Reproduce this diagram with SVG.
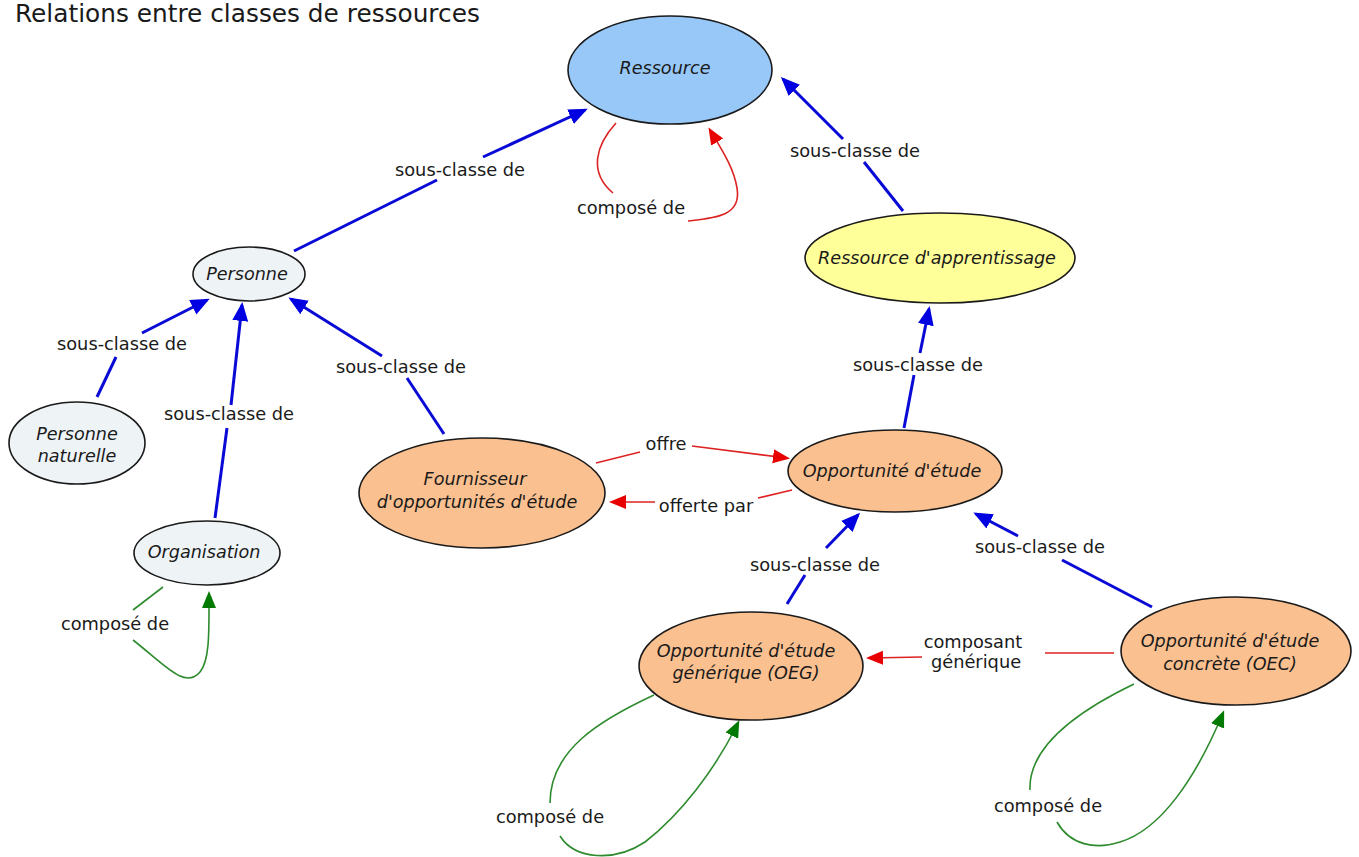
<svg xmlns="http://www.w3.org/2000/svg" width="1359" height="857" viewBox="0 0 1359 857">
<style>
  .node { stroke: #1a1a1a; stroke-width: 1.6; }
  .blue { fill: #98c8f8; }
  .grey { fill: #eef3f6; }
  .yellow { fill: #ffff99; }
  .orange { fill: #fac090; }
  .nt { font-family: "DejaVu Sans", Verdana, sans-serif; font-style: italic; font-size: 17.6px; fill: #1a1a1a; text-anchor: middle; }
  .lt { font-family: "DejaVu Sans", Verdana, sans-serif; font-size: 17.8px; fill: #1a1a1a; text-anchor: middle; }
  .title { font-family: "DejaVu Sans", Verdana, sans-serif; font-size: 24.8px; fill: #1a1a1a; }
  .eb { fill: none; stroke: #0a0ad6; stroke-width: 3; }
  .er { fill: none; stroke: #dd2222; stroke-width: 1.6; }
  .eg { fill: none; stroke: #2e8b2e; stroke-width: 1.6; }
</style>
<defs>
  <marker id="ab" markerUnits="userSpaceOnUse" markerWidth="22" markerHeight="18" refX="16" refY="8" orient="auto">
    <path d="M0,0 L19,8 L0,16 z" fill="#0000e0"/>
  </marker>
  <marker id="ar" markerUnits="userSpaceOnUse" markerWidth="20" markerHeight="16" refX="14" refY="7" orient="auto">
    <path d="M0,0 L17,7 L0,14 z" fill="#e80000"/>
  </marker>
  <marker id="ag" markerUnits="userSpaceOnUse" markerWidth="20" markerHeight="16" refX="14" refY="7" orient="auto">
    <path d="M0,0 L17,7 L0,14 z" fill="#007a00"/>
  </marker>
</defs>
<rect width="1359" height="857" fill="#ffffff"/>
<text class="title" x="15" y="22">Relations entre classes de ressources</text>

<g id="connectors">
  <path class="eb" d="M294,251 L437,180"/>
  <path class="eb" d="M483,157 L585,110" marker-end="url(#ab)"/>
  <path class="eb" d="M903,211 L864,162"/>
  <path class="eb" d="M843,139 L783,79" marker-end="url(#ab)"/>
  <path class="eb" d="M904,428 L914,375"/>
  <path class="eb" d="M920,353 L929,309" marker-end="url(#ab)"/>
  <path class="eb" d="M97,397 L116,357"/>
  <path class="eb" d="M142,333 L207,300" marker-end="url(#ab)"/>
  <path class="eb" d="M215,518 L227,428"/>
  <path class="eb" d="M231,405 L242,305" marker-end="url(#ab)"/>
  <path class="eb" d="M444,434 L407,378"/>
  <path class="eb" d="M382,356 L291,299" marker-end="url(#ab)"/>
  <path class="eb" d="M787,604 L805,575"/>
  <path class="eb" d="M826,548 L858,515" marker-end="url(#ab)"/>
  <path class="eb" d="M1152,607 L1062,560"/>
  <path class="eb" d="M1018,536 L976,514" marker-end="url(#ab)"/>

  <path class="er" d="M596,463 L640,452"/>
  <path class="er" d="M692,446 L787,458" marker-end="url(#ar)"/>
  <path class="er" d="M792,490 L758,498"/>
  <path class="er" d="M655,502 L612,502" marker-end="url(#ar)"/>
  <path class="er" d="M1114,653 L1045,653"/>
  <path class="er" d="M922,657 L869,658" marker-end="url(#ar)"/>
  <path class="er" d="M616,123 C596,145 588,172 613,193"/>
  <path class="er" d="M688,221 C715,218 742,216 737,188 C734,168 722,150 710,130" marker-end="url(#ar)"/>

  <path class="eg" d="M163,587 L133,610"/>
  <path class="eg" d="M133,640 C165,665 185,690 200,672 C210,660 209,630 209,594" marker-end="url(#ag)"/>
  <path class="eg" d="M654,695 C600,720 550,750 550,803"/>
  <path class="eg" d="M560,836 C575,860 615,862 645,842 C680,815 715,770 738,723" marker-end="url(#ag)"/>
  <path class="eg" d="M1134,684 C1080,710 1028,745 1030,790"/>
  <path class="eg" d="M1057,822 C1070,845 1095,850 1120,842 C1160,830 1195,780 1223,713" marker-end="url(#ag)"/>

  <text class="lt" x="460" y="176">sous-classe de</text>
  <text class="lt" x="855" y="157">sous-classe de</text>
  <text class="lt" x="918" y="371">sous-classe de</text>
  <text class="lt" x="122" y="350">sous-classe de</text>
  <text class="lt" x="229" y="420">sous-classe de</text>
  <text class="lt" x="401" y="373">sous-classe de</text>
  <text class="lt" x="815" y="571">sous-classe de</text>
  <text class="lt" x="1040" y="553">sous-classe de</text>
  <text class="lt" x="666" y="450">offre</text>
  <text class="lt" x="706" y="512">offerte par</text>
  <text class="lt" x="973" y="648">composant</text>
  <text class="lt" x="976" y="668">générique</text>
  <text class="lt" x="631" y="214">composé de</text>
  <text class="lt" x="115" y="630">composé de</text>
  <text class="lt" x="550" y="823">composé de</text>
  <text class="lt" x="1048" y="812">composé de</text>
</g>

<g id="n-ressource">
  <ellipse class="node blue" cx="670" cy="70" rx="102" ry="54"/>
  <text class="nt" x="665" y="74">Ressource</text>
</g>
<g id="n-ressource-apprentissage">
  <ellipse class="node yellow" cx="940" cy="258" rx="135" ry="45"/>
  <text class="nt" x="937" y="264">Ressource d'apprentissage</text>
</g>
<g id="n-personne">
  <ellipse class="node grey" cx="249" cy="274" rx="56" ry="27"/>
  <text class="nt" x="247" y="280">Personne</text>
</g>
<g id="n-personne-naturelle">
  <ellipse class="node grey" cx="77" cy="443" rx="68" ry="41"/>
  <text class="nt" x="77" y="440">Personne</text>
  <text class="nt" x="77" y="462">naturelle</text>
</g>
<g id="n-organisation">
  <ellipse class="node grey" cx="207" cy="553" rx="73" ry="32"/>
  <text class="nt" x="204" y="558">Organisation</text>
</g>
<g id="n-fournisseur">
  <ellipse class="node orange" cx="482" cy="493" rx="123" ry="55"/>
  <text class="nt" x="475" y="485">Fournisseur</text>
  <text class="nt" x="477" y="508">d'opportunités d'étude</text>
</g>
<g id="n-opportunite">
  <ellipse class="node orange" cx="895" cy="471" rx="107" ry="41"/>
  <text class="nt" x="892" y="477">Opportunité d'étude</text>
</g>
<g id="n-oeg">
  <ellipse class="node orange" cx="751" cy="666" rx="112" ry="54"/>
  <text class="nt" x="746" y="657">Opportunité d'étude</text>
  <text class="nt" x="746" y="679">générique (OEG)</text>
</g>
<g id="n-oec">
  <ellipse class="node orange" cx="1236" cy="651" rx="115" ry="54"/>
  <text class="nt" x="1230" y="647">Opportunité d'étude</text>
  <text class="nt" x="1230" y="670">concrète (OEC)</text>
</g>
</svg>
